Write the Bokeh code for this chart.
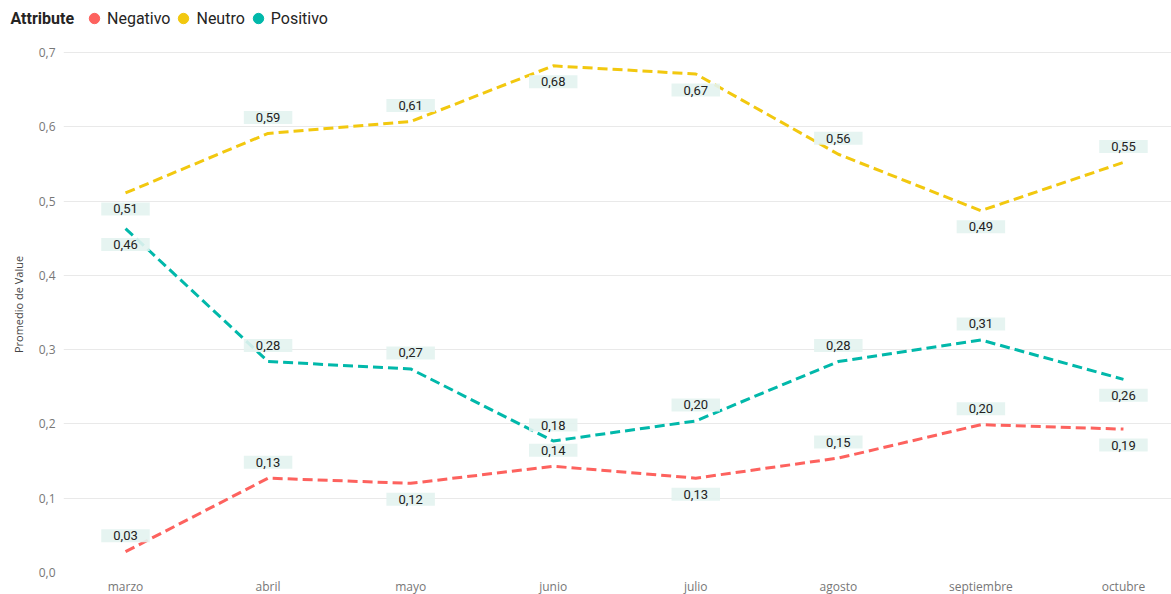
from bokeh.plotting import figure
from bokeh.layouts import column
from bokeh.models import (ColumnDataSource, Label, Legend, LegendItem,
                          FixedTicker, CustomJSTickFormatter, Range1d)
from bokeh.core.properties import value
from bokeh.embed import file_html
from bokeh.resources import INLINE

months = ["marzo", "abril", "mayo", "junio", "julio", "agosto", "septiembre", "octubre"]
series_names = ["Negativo", "Neutro", "Positivo"]
negativo = [0.028, 0.127, 0.120, 0.143, 0.127, 0.154, 0.199, 0.193]
neutro = [0.511, 0.591, 0.607, 0.682, 0.671, 0.563, 0.487, 0.552]
positivo = [0.463, 0.284, 0.274, 0.177, 0.204, 0.284, 0.313, 0.260]
# label placement: 1 = above point, -1 = below point
neg_side = [1, 1, -1, 1, -1, 1, 1, -1]
neu_side = [-1, 1, 1, -1, -1, 1, -1, 1]
pos_side = [-1, 1, 1, 1, 1, 1, 1, -1]
legend_title = "Attribute"

colors = ["#FD625E", "#F2C80F", "#01B8AA"]
values = [negativo, neutro, positivo]
sides = [neg_side, neu_side, pos_side]

FONT = "Roboto"
TOP_H = 36
FH = 536
W = 1171

# ---- legend strip ----
top = figure(width=W, height=TOP_H, output_backend="svg", toolbar_location=None,
             x_range=Range1d(0, W), y_range=Range1d(0, TOP_H),
             min_border=0, x_axis_type=None, y_axis_type=None)
top.outline_line_color = None
top.grid.visible = False
top.add_layout(Label(x=10, y=TOP_H - 18, text=legend_title, text_font=FONT,
                     text_font_style="bold", text_font_size="16px",
                     text_color="#252423", text_baseline="middle"))

# ---- main chart ----
p = figure(frame_width=W - 63, frame_height=FH, output_backend="svg", toolbar_location=None,
           x_range=Range1d(-0.435, 7.337), y_range=Range1d(0, 0.7215),
           min_border_left=63, min_border_right=0, min_border_top=0, min_border_bottom=22)
p.outline_line_color = None
p.background_fill_color = "white"
p.border_fill_color = "white"
p.xgrid.grid_line_color = None
p.ygrid.grid_line_color = "#e9e9e9"
p.ygrid.grid_line_width = 1

for fig in (top, p):
    if "frame_align" in fig.properties():
        fig.frame_align = False

xs = list(range(len(months)))

legend_items = []
for name, vals, side, col in zip(series_names, values, sides, colors):
    src = ColumnDataSource(dict(
        x=xs, y=vals,
        txt=[("%.2f" % v).replace(".", ",") for v in vals],
        yoff=[-16 * s for s in side],
    ))
    p.line("x", "y", source=src, line_color=col, line_width=3, line_dash="10 5")
    p.text("x", "y", text="txt", source=src, y_offset="yoff",
           text_align="center", text_baseline="middle",
           text_font=value(FONT), text_font_size="13px", text_color="#222222",
           background_fill_color="#e3f3ef", background_fill_alpha=0.9,
           padding=[12, 12, 2, 2])
    dot = top.scatter(x=[0], y=[0], marker="circle", size=12, color=col, visible=False)
    legend_items.append(LegendItem(label=name, renderers=[dot]))

legend = Legend(items=legend_items, orientation="horizontal", location=(81, TOP_H - 18 - 13),
                margin=0, padding=0, spacing=0, label_standoff=0,
                glyph_width=26, glyph_height=26,
                label_text_font=FONT, label_text_font_size="16px", label_text_color="#252423",
                background_fill_alpha=0, border_line_color=None)
top.add_layout(legend, "center")

p.xaxis.ticker = FixedTicker(ticks=xs)
p.xaxis.formatter = CustomJSTickFormatter(args=dict(m=months), code="return m[tick] || ''")
p.yaxis.ticker = FixedTicker(ticks=[0, 0.1, 0.2, 0.3, 0.4, 0.5, 0.6, 0.7])
p.yaxis.formatter = CustomJSTickFormatter(code="return tick.toFixed(1).replace('.', ',')")
for ax in (p.xaxis, p.yaxis):
    ax.axis_line_color = None
    ax.major_tick_line_color = None
    ax.minor_tick_line_color = None
    ax.major_tick_out = 0
    ax.major_tick_in = 0
    ax.minor_tick_out = 0
    ax.minor_tick_in = 0
    ax.major_label_text_font = "Open Sans"
    ax.major_label_text_font_size = "12px"
    ax.major_label_text_color = "#777777"
p.xaxis.major_label_standoff = 5
p.yaxis.major_label_standoff = 8
p.yaxis.axis_label = "Promedio de Value"
p.yaxis.axis_label_text_font = "Open Sans"
p.yaxis.axis_label_text_font_size = "11px"
p.yaxis.axis_label_text_font_style = "normal"
p.yaxis.axis_label_text_color = "#444444"
p.yaxis.axis_label_standoff = 10

layout = column(top, p, spacing=0)
open("out.html", "w").write(file_html(layout, INLINE))
